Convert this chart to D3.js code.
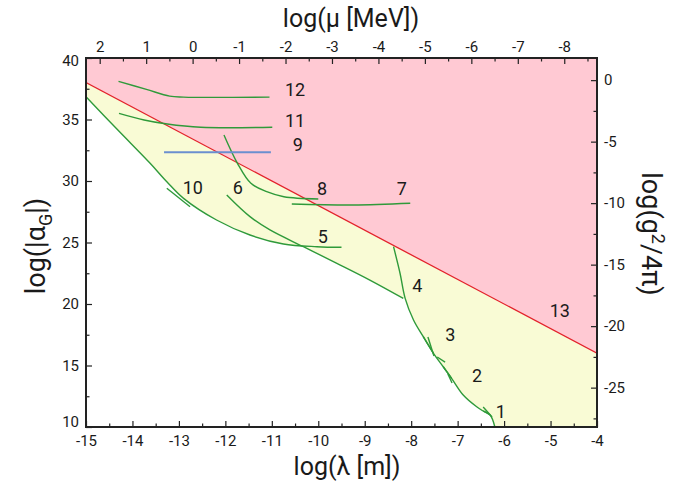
<!DOCTYPE html>
<html>
<head>
<meta charset="utf-8">
<script src="https://cdn.jsdelivr.net/npm/d3@7"></script>
<style>
  body { margin: 0; background: #fff; }
  svg text { font-family: Roboto, "Liberation Sans", sans-serif; fill: #1a1a1a; }
</style>
</head>
<body>
<div class="chart"></div>
<script>
// Tick values
const lambdaTicks = [-15, -14, -13, -12, -11, -10, -9, -8, -7, -6, -5, -4];
const muTicks = [2, 1, 0, -1, -2, -3, -4, -5, -6, -7, -8];
const alphaTicks = [10, 15, 20, 25, 30, 35, 40];
const gTicks = [0, -5, -10, -15, -20, -25];

// Bound from the red line: [log lambda, log alpha]
const redLine = [[-15, 38], [-4, 16]];

// Curves: [log lambda, log alpha]
const curve10_5 = [[-15, 36.85], [-14.33, 34.2], [-13.62, 31.44], [-13.26, 29.94], [-12.9, 28.59],
    [-12.19, 26.83], [-11.47, 25.61], [-10.75, 24.88], [-10.03, 24.66], [-9.5, 24.61]];
const curve6 = [[-11.97, 28.86], [-11.47, 27.1], [-11.04, 26.02], [-10.32, 24.66],
    [-9.6, 23.31], [-8.89, 21.95], [-8.17, 20.46]];
const curve8 = [[-12.03, 33.74], [-11.74, 31.44], [-11.45, 29.81], [-11.11, 29.13],
    [-10.74, 28.72], [-10.0, 28.54]];
const curve7 = [[-10.57, 28.13], [-9.25, 28.05], [-8.02, 28.19]];
const curve12 = [[-14.3, 38.1], [-13.7, 37.45], [-13.2, 36.9], [-12.9, 36.82], [-11.05, 36.82]];
const curve11 = [[-14.29, 35.5], [-13.75, 34.96], [-13.25, 34.63], [-12.53, 34.37], [-10.99, 34.37]];
const curve9 = [[-13.32, 32.33], [-11.02, 32.33]];
const curve4 = [[-8.38, 24.66], [-8.24, 22.5], [-8.13, 20.46], [-7.95, 18.7], [-7.74, 17.34], [-7.52, 15.99]];
const curve3 = [[-7.74, 17.34], [-7.52, 15.99], [-7.31, 14.9], [-7.13, 13.96]];
const curve2 = [[-7.31, 14.9], [-7.13, 13.96], [-6.88, 12.6], [-6.59, 11.65], [-6.3, 10.98]];
const curve1 = [[-6.45, 11.3], [-6.3, 10.98], [-6.2, 10.02]];
const crossMarks = [
    [[-13.26, 29.41], [-12.76, 27.91]],
    [[-7.64, 17.32], [-7.51, 15.77]],
    [[-7.44, 15.69], [-7.27, 15.28]],
    [[-7.21, 14.31], [-7.12, 13.58]],
    [[-6.45, 11.63], [-6.26, 10.81]]
];

const labelText = ['12', '11', '9', '10', '6', '8', '7', '5', '4', '3', '2', '1', '13'];
const labelPos = [[-10.5, 37.4], [-10.5, 34.88], [-10.44, 32.93], [-12.7, 29.51], [-11.73, 29.51],
    [-9.92, 29.43], [-8.2, 29.43], [-9.9, 25.45], [-7.87, 21.54], [-7.16, 17.48], [-6.58, 14.15],
    [-6.07, 11.22], [-4.8, 19.51]];

const svg = d3.select('.chart').append('svg').attr('width', 691).attr('height', 489);

const area = {left: 86, right: 597, top: 58, bottom: 427};

const x = d3.scaleLinear().domain([-15, -4]).range([area.left, area.right]);
const y = d3.scaleLinear().domain([10, 40]).range([area.bottom, area.top]);
// mu = hbar c / lambda  ->  log mu[MeV] = -12.705 - log lambda
const xTop = d3.scaleLinear().domain([-12.705 + 15, -12.705 + 4]).range([area.left, area.right]);
// coupling axis is a shift of the alpha axis
const yRight = d3.scaleLinear().domain([10 - 38.2, 40 - 38.2]).range([area.bottom, area.top]);

const line = d3.line().x(d => x(d[0])).y(d => y(d[1]));
const smooth = d3.line().x(d => x(d[0])).y(d => y(d[1])).curve(d3.curveCatmullRom);

svg.append('clipPath').attr('id', 'plot-clip').append('rect')
    .attr('x', area.left).attr('y', area.top)
    .attr('width', area.right - area.left).attr('height', area.bottom - area.top);

const plot = svg.append('g').attr('clip-path', 'url(#plot-clip)');

// pink: above the red line
plot.append('path')
    .attr('d', line([[-15, 40], [-4, 40], redLine[1], redLine[0]]) + 'Z')
    .style('fill', '#ffc9d3');

// yellow: between red line and the lowest curves
const cross = -10.45;
const lower = [].concat(
    curve10_5.filter(d => d[0] < cross),
    curve6.filter(d => d[0] > cross),
    curve4.filter(d => d[0] > -8.14),
    curve3.slice(2),
    curve2.slice(2),
    curve1.slice(2),
    [[-4, 10], redLine[1], redLine[0]]
);
plot.append('path').attr('d', line(lower) + 'Z').style('fill', '#f9fbd5');

plot.append('path').attr('d', line(redLine))
    .style('fill', 'none').style('stroke', '#e3222b').style('stroke-width', 1.3);

const greens = [curve10_5, curve6, curve8, curve7, curve12, curve11, curve4, curve3, curve2, curve1];
plot.selectAll('.curve').data(greens).enter().append('path')
    .attr('class', 'curve')
    .attr('d', smooth)
    .style('fill', 'none').style('stroke', '#2f9a3a').style('stroke-width', 1.4);

plot.selectAll('.mark').data(crossMarks).enter().append('path')
    .attr('class', 'mark')
    .attr('d', line)
    .style('fill', 'none').style('stroke', '#2f9a3a').style('stroke-width', 1.4);

plot.append('path').attr('d', line(curve9))
    .style('fill', 'none').style('stroke', '#6b8fcf').style('stroke-width', 2);

svg.selectAll('.num').data(labelText).enter().append('text')
    .attr('class', 'num')
    .attr('x', (d, i) => x(labelPos[i][0]))
    .attr('y', (d, i) => y(labelPos[i][1]))
    .attr('text-anchor', 'middle')
    .attr('dominant-baseline', 'central')
    .style('font-size', '18px')
    .text(d => d);

// axes
function drawAxis(axis, transform) {
    const g = svg.append('g').attr('transform', transform).call(axis);
    g.select('.domain').remove();
    g.selectAll('line').style('stroke', '#222').style('stroke-width', 1.2);
    g.selectAll('text').style('font-size', '15px').style('font-family', 'Roboto, sans-serif').style('fill', '#1a1a1a');
    return g;
}
const half = (arr, step) => arr.slice(0, -1).map(v => v + step);
const plain = d => String(d);

drawAxis(d3.axisBottom(x).tickValues(lambdaTicks).tickSize(-6).tickPadding(8).tickFormat(plain),
    `translate(0,${area.bottom})`);
drawAxis(d3.axisBottom(x).tickValues(half(lambdaTicks, 0.5)).tickSize(-3.5).tickFormat(''),
    `translate(0,${area.bottom})`);
drawAxis(d3.axisTop(xTop).tickValues(muTicks).tickSize(-6).tickPadding(6).tickFormat(plain),
    `translate(0,${area.top})`);
drawAxis(d3.axisTop(xTop).tickValues(muTicks.map(v => v - 0.5)).tickSize(-3.5).tickFormat(''),
    `translate(0,${area.top})`);
const leftAxis = drawAxis(d3.axisLeft(y).tickValues(alphaTicks).tickSize(-6).tickPadding(7).tickFormat(plain),
    `translate(${area.left},0)`);
leftAxis.selectAll('text').attr('dy', d => d === 10 ? '-0.05em' : d === 40 ? '0.5em' : '0.32em');
drawAxis(d3.axisLeft(y).tickValues(half(alphaTicks, 2.5)).tickSize(-3.5).tickFormat(''),
    `translate(${area.left},0)`);
drawAxis(d3.axisRight(yRight).tickValues(gTicks).tickSize(-6).tickPadding(7).tickFormat(plain),
    `translate(${area.right},0)`);
drawAxis(d3.axisRight(yRight).tickValues([-2.5, -7.5, -12.5, -17.5, -22.5, -27.5]).tickSize(-3.5).tickFormat(''),
    `translate(${area.right},0)`);

svg.append('rect')
    .attr('x', area.left).attr('y', area.top)
    .attr('width', area.right - area.left).attr('height', area.bottom - area.top)
    .style('fill', 'none').style('stroke', '#222').style('stroke-width', 2);

// titles
svg.append('text').attr('x', 351).attr('y', 27).attr('text-anchor', 'middle')
    .style('font-size', '25px').text('log(μ [MeV])');
svg.append('text').attr('x', 347).attr('y', 475).attr('text-anchor', 'middle')
    .style('font-size', '25px').text('log(λ [m])');

const yt = svg.append('text').attr('transform', 'translate(45,246) rotate(-90)')
    .attr('text-anchor', 'middle').style('font-size', '27px');
yt.append('tspan').text('log(|α');
yt.append('tspan').attr('dy', 7).style('font-size', '18px').text('G');
yt.append('tspan').attr('dy', -7).text('|)');

const rt = svg.append('text').attr('transform', 'translate(642,234) rotate(90)')
    .attr('text-anchor', 'middle').style('font-size', '27px');
rt.append('tspan').text('log(g');
rt.append('tspan').attr('dy', -10).style('font-size', '18px').text('2');
rt.append('tspan').attr('dy', 10).text('/4π)');
</script>
</body>
</html>
